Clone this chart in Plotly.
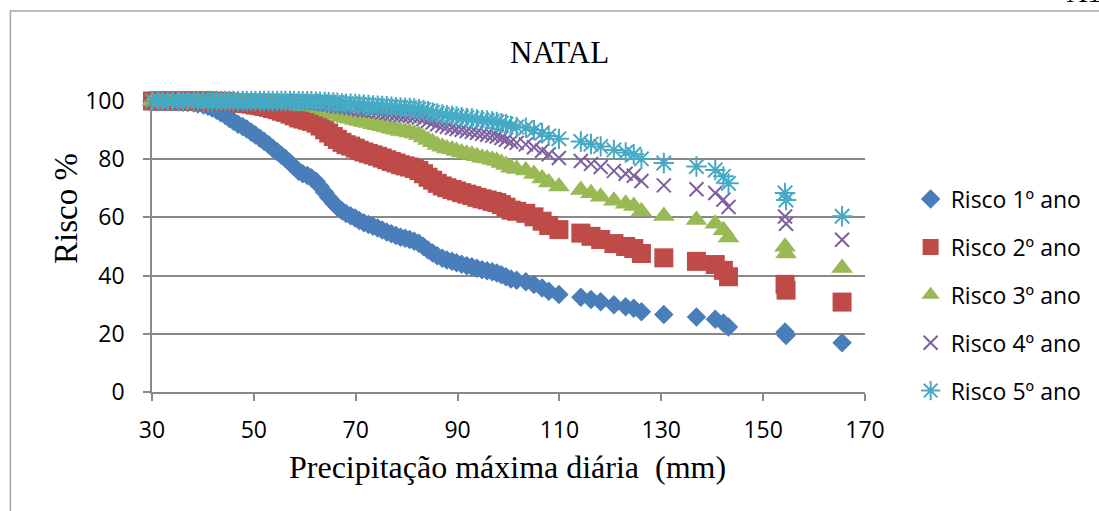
import plotly.graph_objects as go

# Precipitação máxima diária (mm) e risco de ocorrência (%) para 1 a 5 anos
precipitacao_mm = [
    30.1, 31.2, 32.0, 33.1, 34.0, 35.2, 36.1, 37.0, 38.2, 39.0,
    40.1, 41.0, 41.8, 42.7, 43.5, 44.4, 45.2, 46.0, 46.9, 47.8,
    48.6, 49.5, 50.3, 51.2, 52.0, 52.9, 53.7, 54.6, 55.4, 56.2,
    57.1, 57.9, 58.8, 59.6, 60.5, 61.3, 62.2, 63.0, 63.9, 64.7,
    65.6, 66.4, 67.3, 68.1, 69.0, 69.9, 70.7, 71.6, 72.5, 73.4,
    74.3, 75.2, 76.1, 77.0, 77.9, 78.8, 79.7, 80.6, 81.5, 82.4,
    83.3, 84.2, 85.1, 86.0, 87.0, 87.9, 88.9, 89.8, 90.8, 91.8,
    92.8, 93.8, 94.8, 95.8, 96.8, 97.7, 98.6, 99.5, 100.5, 101.6,
    103.4, 105.0, 106.6, 107.9, 109.9, 114.2, 116.2, 118.1, 120.7, 123.0,
    124.6, 126.1, 130.5, 136.9, 140.6, 142.2, 143.2, 154.3, 154.5, 165.5,
]

risco_1ano = [
    99.9, 99.9, 99.9, 99.8, 99.8, 99.7, 99.6, 99.5, 99.3, 99.0,
    98.6, 98.2, 97.6, 96.8, 96.0, 95.0, 94.0, 93.0, 92.0, 91.2,
    90.4, 89.3, 88.3, 87.2, 86.2, 85.0, 83.8, 82.6, 81.4, 80.2,
    78.8, 77.4, 75.9, 75.0, 74.4, 73.6, 72.4, 70.6, 68.6, 66.8,
    65.0, 63.6, 62.3, 61.3, 60.6, 59.8, 58.9, 58.2, 57.6, 57.0,
    56.4, 55.7, 55.0, 54.4, 53.8, 53.2, 52.8, 52.4, 51.8, 51.1,
    50.0, 48.8, 47.8, 46.8, 46.0, 45.4, 44.9, 44.4, 43.9, 43.4,
    43.0, 42.5, 42.0, 41.7, 41.3, 40.9, 40.3, 39.6, 38.8, 38.4,
    37.9, 36.9, 35.7, 34.6, 33.5, 32.6, 31.8, 31.0, 30.0, 29.3,
    28.8, 27.6, 26.6, 25.8, 25.0, 23.7, 22.3, 20.6, 19.4, 16.9,
]

risco_2ano = [
    100.0, 100.0, 100.0, 100.0, 100.0, 100.0, 100.0, 100.0, 100.0, 100.0,
    100.0, 100.0, 99.9, 99.9, 99.8, 99.8, 99.6, 99.5, 99.4, 99.2,
    99.1, 98.9, 98.6, 98.4, 98.1, 97.8, 97.4, 97.0, 96.5, 96.1,
    95.5, 94.9, 94.2, 93.8, 93.4, 93.0, 92.4, 91.4, 90.1, 89.0,
    87.8, 86.8, 85.8, 85.0, 84.5, 83.8, 83.1, 82.5, 82.0, 81.5,
    81.0, 80.4, 79.8, 79.2, 78.7, 78.1, 77.7, 77.3, 76.8, 76.1,
    75.0, 73.8, 72.8, 71.7, 70.8, 70.2, 69.6, 69.1, 68.5, 68.0,
    67.5, 66.9, 66.4, 66.0, 65.5, 65.1, 64.4, 63.5, 62.5, 62.1,
    61.4, 60.2, 58.7, 57.2, 55.8, 54.6, 53.5, 52.4, 51.0, 50.0,
    49.3, 47.6, 46.1, 44.9, 43.8, 41.8, 39.6, 37.0, 35.0, 30.9,
]

risco_3ano = [
    100.0, 100.0, 100.0, 100.0, 100.0, 100.0, 100.0, 100.0, 100.0, 100.0,
    100.0, 100.0, 100.0, 100.0, 100.0, 100.0, 100.0, 100.0, 99.9, 99.9,
    99.9, 99.9, 99.8, 99.8, 99.7, 99.7, 99.6, 99.5, 99.4, 99.2,
    99.0, 98.8, 98.6, 98.4, 98.3, 98.2, 97.9, 97.5, 96.9, 96.3,
    95.7, 95.2, 94.6, 94.2, 93.9, 93.5, 93.1, 92.7, 92.4, 92.0,
    91.7, 91.3, 90.9, 90.5, 90.1, 89.7, 89.5, 89.2, 88.8, 88.3,
    87.5, 86.6, 85.8, 84.9, 84.3, 83.7, 83.3, 82.8, 82.3, 81.9,
    81.5, 81.0, 80.5, 80.2, 79.8, 79.4, 78.7, 78.0, 77.1, 76.6,
    76.1, 74.9, 73.4, 72.0, 70.6, 69.4, 68.3, 67.1, 65.7, 64.7,
    63.9, 62.0, 60.5, 59.1, 57.8, 55.6, 53.1, 49.9, 47.6, 42.6,
]

risco_4ano = [
    100.0, 100.0, 100.0, 100.0, 100.0, 100.0, 100.0, 100.0, 100.0, 100.0,
    100.0, 100.0, 100.0, 100.0, 100.0, 100.0, 100.0, 100.0, 100.0, 100.0,
    100.0, 100.0, 100.0, 100.0, 100.0, 99.9, 99.9, 99.9, 99.9, 99.8,
    99.8, 99.7, 99.7, 99.6, 99.6, 99.5, 99.4, 99.3, 99.0, 98.8,
    98.5, 98.2, 98.0, 97.8, 97.6, 97.4, 97.1, 96.9, 96.8, 96.6,
    96.4, 96.1, 95.9, 95.7, 95.4, 95.2, 95.0, 94.9, 94.6, 94.3,
    93.8, 93.1, 92.6, 92.0, 91.5, 91.1, 90.8, 90.4, 90.1, 89.7,
    89.4, 89.1, 88.7, 88.4, 88.1, 87.8, 87.3, 86.7, 86.0, 85.6,
    85.1, 84.1, 82.9, 81.7, 80.4, 79.4, 78.4, 77.3, 76.0, 75.0,
    74.3, 72.5, 71.0, 69.7, 68.4, 66.1, 63.6, 60.3, 57.8, 52.3,
]

risco_5ano = [
    100.0, 100.0, 100.0, 100.0, 100.0, 100.0, 100.0, 100.0, 100.0, 100.0,
    100.0, 100.0, 100.0, 100.0, 100.0, 100.0, 100.0, 100.0, 100.0, 100.0,
    100.0, 100.0, 100.0, 100.0, 100.0, 100.0, 100.0, 100.0, 100.0, 100.0,
    100.0, 99.9, 99.9, 99.9, 99.9, 99.9, 99.8, 99.8, 99.7, 99.6,
    99.5, 99.4, 99.2, 99.1, 99.1, 99.0, 98.8, 98.7, 98.6, 98.5,
    98.4, 98.3, 98.2, 98.0, 97.9, 97.8, 97.7, 97.6, 97.4, 97.2,
    96.9, 96.5, 96.1, 95.7, 95.4, 95.1, 94.9, 94.7, 94.4, 94.2,
    94.0, 93.7, 93.4, 93.3, 93.0, 92.8, 92.4, 92.0, 91.4, 91.1,
    90.8, 90.0, 89.0, 88.0, 87.0, 86.1, 85.2, 84.4, 83.2, 82.3,
    81.7, 80.1, 78.7, 77.5, 76.3, 74.1, 71.7, 68.4, 66.0, 60.4,
]

x_ticks = [30, 50, 70, 90, 110, 130, 150, 170]
y_ticks = [0, 20, 40, 60, 80, 100]

series = [
    ("Risco 1º ano", risco_1ano, "diamond", 15, "#4A7EBB"),
    ("Risco 2º ano", risco_2ano, "square", 19, "#BE4B48"),
    ("Risco 3º ano", risco_3ano, "triangle-up", 19, "#98B954"),
    ("Risco 4º ano", risco_4ano, "x-thin-open", 14, "#7D60A0"),
    ("Risco 5º ano", risco_5ano, "asterisk-open", 17, "#46AAC5"),
]

fig = go.Figure()
for i, (nome, valores, simbolo, tamanho, cor) in enumerate(series):
    linha = dict(width=2, color=cor) if simbolo.endswith("-open") else dict(width=0)
    fig.add_trace(go.Scatter(
        x=precipitacao_mm, y=valores, name=nome, mode="markers",
        legendgroup=f"g{i}",
        cliponaxis=False,
        marker=dict(symbol=simbolo, size=tamanho, color=cor, line=linha),
    ))

serif = "Liberation Serif"
sans = "Open Sans"
grid_color = "#898989"

fig.update_layout(
    width=1099, height=511,
    margin=dict(l=152, r=232, t=101, b=119),
    paper_bgcolor="white", plot_bgcolor="white",
    showlegend=True,
    legend=dict(
        x=1.064, xanchor="left", y=0.737, yanchor="top",
        font=dict(family=sans, size=23, color="black"),
        traceorder="grouped", tracegroupgap=15,
        itemwidth=30, bgcolor="rgba(0,0,0,0)",
    ),
    xaxis=dict(
        range=[30, 170], tickvals=x_ticks, ticktext=[str(v) for v in x_ticks],
        showgrid=False, zeroline=False,
        showline=True, linecolor=grid_color, linewidth=1.5,
        ticks="outside", ticklen=7, tickwidth=1.5, tickcolor=grid_color,
        ticklabelstandoff=10,
        tickfont=dict(family=sans, size=23, color="black"),
    ),
    yaxis=dict(
        range=[0, 100], tickvals=y_ticks, ticktext=[str(v) for v in y_ticks],
        showgrid=True, gridcolor=grid_color, gridwidth=1.5, zeroline=False,
        showline=True, linecolor=grid_color, linewidth=1.5,
        ticks="outside", ticklen=7, tickwidth=1.5, tickcolor=grid_color,
        ticklabelstandoff=14,
        tickfont=dict(family=sans, size=23, color="black"),
    ),
    annotations=[
        dict(text="NATAL", x=0.572, y=1.168, xref="paper", yref="paper",
             xanchor="center", yanchor="middle", showarrow=False,
             font=dict(family=serif, size=31, color="black")),
        dict(text="Precipitação máxima diária  (mm)", x=0.4986, y=-0.258,
             xref="paper", yref="paper", xanchor="center", yanchor="middle",
             showarrow=False, font=dict(family=serif, size=32, color="black")),
        dict(text="Risco %", x=-0.1217, y=0.63, xref="paper", yref="paper",
             xanchor="center", yanchor="middle", textangle=-90, showarrow=False,
             font=dict(family=serif, size=33, color="black")),
        dict(text="A1", x=1.0, y=1.0, xref="paper", yref="paper",
             xanchor="right", yanchor="bottom", xshift=232 + 6, yshift=101 - 10,
             showarrow=False, font=dict(family=serif, size=28, color="black")),
    ],
    shapes=[
        dict(type="rect", xref="paper", yref="paper",
             x0=(10 - 152) / 715, x1=1.5, y0=-1.0, y1=(392 - 11) / 291,
             line=dict(color="#a6a6a6", width=1.5), fillcolor="rgba(0,0,0,0)",
             layer="below"),
    ],
)

fig.write_html("out.html")
